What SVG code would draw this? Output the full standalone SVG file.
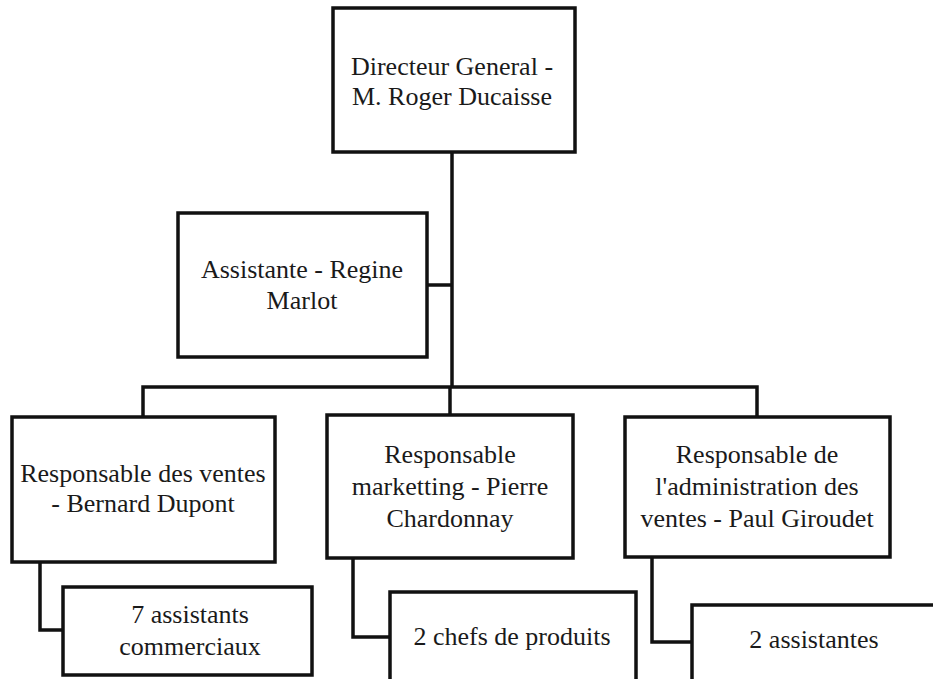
<svg xmlns="http://www.w3.org/2000/svg" width="933" height="679" viewBox="0 0 933 679">
<style>
.box{fill:#fff;stroke:#111;stroke-width:3.5}
.con{fill:none;stroke:#111;stroke-width:3.5}
text{font-family:"Liberation Serif","Times New Roman",serif;font-size:26px;fill:#1a1a1a;text-anchor:middle}
</style>
<rect width="933" height="679" fill="#fff"/>
<g id="connectors">
<path class="con" d="M452 152V387"/>
<path class="con" d="M427 285H452"/>
<path class="con" d="M143 417V387H757V417"/>
<path class="con" d="M450 387V415"/>
<path class="con" d="M40 562V630H63"/>
<path class="con" d="M353 558V637H390"/>
<path class="con" d="M652 557V642H692"/>
</g>
<g id="directeur">
<rect class="box" x="333" y="8" width="242" height="144"/>
<text x="452" y="75">Directeur General -</text>
<text x="452" y="105">M. Roger Ducaisse</text>
</g>
<g id="assistante">
<rect class="box" x="178" y="213" width="249" height="144"/>
<text x="302" y="278">Assistante - Regine</text>
<text x="302" y="309">Marlot</text>
</g>
<g id="ventes">
<rect class="box" x="12" y="417" width="263" height="145"/>
<text x="143" y="482">Responsable des ventes</text>
<text x="143" y="512">- Bernard Dupont</text>
</g>
<g id="marketing">
<rect class="box" x="327" y="415" width="246" height="143"/>
<text x="450" y="463">Responsable</text>
<text x="450" y="495">marketting - Pierre</text>
<text x="450" y="527">Chardonnay</text>
</g>
<g id="administration">
<rect class="box" x="625" y="417" width="265" height="140"/>
<text x="757" y="463">Responsable de</text>
<text x="757" y="495">l'administration des</text>
<text x="757" y="527">ventes - Paul Giroudet</text>
</g>
<g id="assistants-commerciaux">
<rect class="box" x="63" y="587" width="249" height="88"/>
<text x="190" y="623">7 assistants</text>
<text x="190" y="655">commerciaux</text>
</g>
<g id="chefs-produits">
<rect class="box" x="390" y="592" width="246" height="100"/>
<text x="512" y="645">2 chefs de produits</text>
</g>
<g id="assistantes">
<rect class="box" x="692" y="605" width="260" height="90"/>
<text x="814" y="648">2 assistantes</text>
</g>
</svg>
